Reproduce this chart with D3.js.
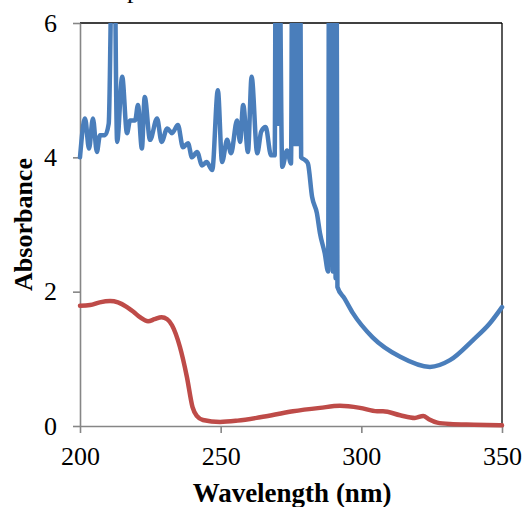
<!DOCTYPE html>
<html>
<head>
<meta charset="utf-8">
<script src="https://cdn.jsdelivr.net/npm/d3@7"></script>
<style>
  body { margin: 0; background: #fff; }
  svg { display: block; }
  text { font-family: "Liberation Serif", "Times New Roman", serif; }
</style>
</head>
<body>
<svg id="chart"></svg>
<script>
// blue series (wavelength nm, absorbance) - spikes above 6 are cut by the frame
const blueWavelength = [200, 201.8, 203.2, 204.6, 206, 207.1, 208.9, 210.2, 211.9, 213.2, 215, 216.7, 217.8, 219.6, 220.6, 222, 223, 224.9, 227.4, 229, 231, 232.7, 234.8, 236.6, 238.4, 239.8, 241.6, 243.4, 245, 247, 249, 250.5, 252.3, 253.7, 255.8, 256.9, 258, 259.7, 261, 263, 264.4, 266, 267.9, 269.2,
    269.7, 269.9, 270.1, 270.3, 270.5,
    271.9, 273.6, 275,
    275.6, 275.85, 276.1, 276.35, 276.6, 276.85, 277.1, 277.35, 277.6, 277.85, 278.1,
    278.6, 280, 281, 282.5, 284.2, 285.3, 287, 288.2,
    288.6, 288.85, 289.1, 289.35, 289.6, 289.85, 290.1, 290.35, 290.6, 290.85, 291.1,
    291.5, 294, 297, 304, 313.8, 324.4, 331.5, 339.7, 345.7, 350]
const blueAbsorbance = [4.0, 4.58, 4.13, 4.58, 4.08, 4.33, 4.33, 4.5, 8.5, 4.23, 5.2, 4.36, 4.55, 4.55, 4.78, 4.13, 4.9, 4.26, 4.58, 4.23, 4.43, 4.36, 4.48, 4.15, 4.21, 4.0, 4.08, 3.88, 3.93, 3.81, 5.0, 3.93, 4.26, 4.06, 4.55, 4.23, 4.78, 4.08, 5.2, 4.06, 4.38, 4.45, 4.03, 4.03,
    9, 4.5, 9, 4.5, 9,
    3.86, 4.1, 3.91,
    9, 4.2, 9, 4.2, 9, 4.2, 9, 4.2, 9, 4.2, 9,
    4.0, 3.96, 3.91, 3.41, 3.17, 2.87, 2.57, 2.3,
    9, 2.4, 9, 2.4, 9, 2.3, 9, 2.3, 9, 2.2, 9,
    2.07, 1.9, 1.68, 1.32, 1.03, 0.88, 0.98, 1.28, 1.53, 1.77]

// red series
const redWavelength = [200, 203.6, 207, 210.7, 213.5, 216.7, 219, 221.3, 224.2, 226.5, 229, 231, 232.7, 235.5, 238, 240, 241.5, 243.7, 249.8, 256, 264, 275.7, 285.3, 292.4, 299.5, 305.6, 307.7, 313.8, 319, 322, 324, 327, 331.5, 340, 350]
const redAbsorbance = [1.79, 1.80, 1.84, 1.86, 1.84, 1.77, 1.70, 1.62, 1.56, 1.59, 1.62, 1.59, 1.5, 1.18, 0.73, 0.28, 0.15, 0.09, 0.06, 0.08, 0.13, 0.22, 0.27, 0.3, 0.27, 0.22, 0.22, 0.16, 0.12, 0.15, 0.1, 0.05, 0.03, 0.02, 0.01]

const xTicks = [200, 250, 300, 350]
const yTicks = [0, 2, 4, 6]

const width = 523, height = 507
const margin = {left: 80, right: 21, top: 23, bottom: 81}

const svg = d3.select("#chart").attr("width", width).attr("height", height)

const x = d3.scaleLinear().domain([200, 350]).range([margin.left, width - margin.right])
const y = d3.scaleLinear().domain([0, 6]).range([height - margin.bottom, margin.top])

svg.append("defs").append("clipPath").attr("id", "plot-clip")
    .append("rect")
    .attr("x", x(200) - 3).attr("y", y(6))
    .attr("width", x(350) - x(200) + 6).attr("height", y(0) - y(6) + 3)

// frame: black top and right
svg.append("line").attr("x1", x(200)).attr("x2", x(350)).attr("y1", y(6)).attr("y2", y(6))
    .attr("stroke", "#000").attr("stroke-width", 1.3)
svg.append("line").attr("x1", x(350)).attr("x2", x(350)).attr("y1", y(6)).attr("y2", y(0))
    .attr("stroke", "#000").attr("stroke-width", 1.3)

// axes
const yAxis = svg.append("g").attr("transform", `translate(${x(200)},0)`)
    .call(d3.axisLeft(y).tickValues(yTicks).tickFormat(d3.format("d"))
        .tickSize(7).tickSizeOuter(0).tickPadding(16))
const xAxis = svg.append("g").attr("transform", `translate(0,${y(0)})`)
    .call(d3.axisBottom(x).tickValues(xTicks).tickFormat(d3.format("d"))
        .tickSize(7).tickSizeOuter(0).tickPadding(14))

;[xAxis, yAxis].forEach(a => {
    a.select(".domain").attr("stroke", "#868686").attr("stroke-width", 1.6)
    a.selectAll(".tick line").attr("stroke", "#868686").attr("stroke-width", 1.6)
    a.selectAll(".tick text").attr("fill", "#000").attr("font-size", 26)
        .attr("font-family", "Liberation Serif, serif")
})

const line = d3.line()
    .x(d => x(d[0]))
    .y(d => y(d[1]))
    .curve(d3.curveMonotoneX)

const plot = svg.append("g").attr("clip-path", "url(#plot-clip)")

plot.append("path")
    .datum(redWavelength.map((w, i) => [w, redAbsorbance[i]]))
    .attr("d", line)
    .attr("fill", "none")
    .attr("stroke", "#be4b48")
    .attr("stroke-width", 4.5)
    .attr("stroke-linejoin", "round")
    .attr("stroke-linecap", "round")

plot.append("path")
    .datum(blueWavelength.map((w, i) => [w, blueAbsorbance[i]]))
    .attr("d", line)
    .attr("fill", "none")
    .attr("stroke", "#4a7ebb")
    .attr("stroke-width", 4.5)
    .attr("stroke-linejoin", "round")
    .attr("stroke-linecap", "round")

// axis titles
svg.append("text").text("Absorbance")
    .attr("transform", `translate(32,${(y(0) + y(6)) / 2}) rotate(-90)`)
    .attr("text-anchor", "middle")
    .attr("font-size", 26).attr("font-weight", "bold")

svg.append("text").text("Wavelength (nm)")
    .attr("x", 292).attr("y", 502)
    .attr("text-anchor", "middle")
    .attr("font-size", 27).attr("font-weight", "bold")

// cut-off title above the frame
svg.append("text").text("p")
    .attr("x", 127).attr("y", -2.5)
    .attr("font-size", 26)
</script>
</body>
</html>
